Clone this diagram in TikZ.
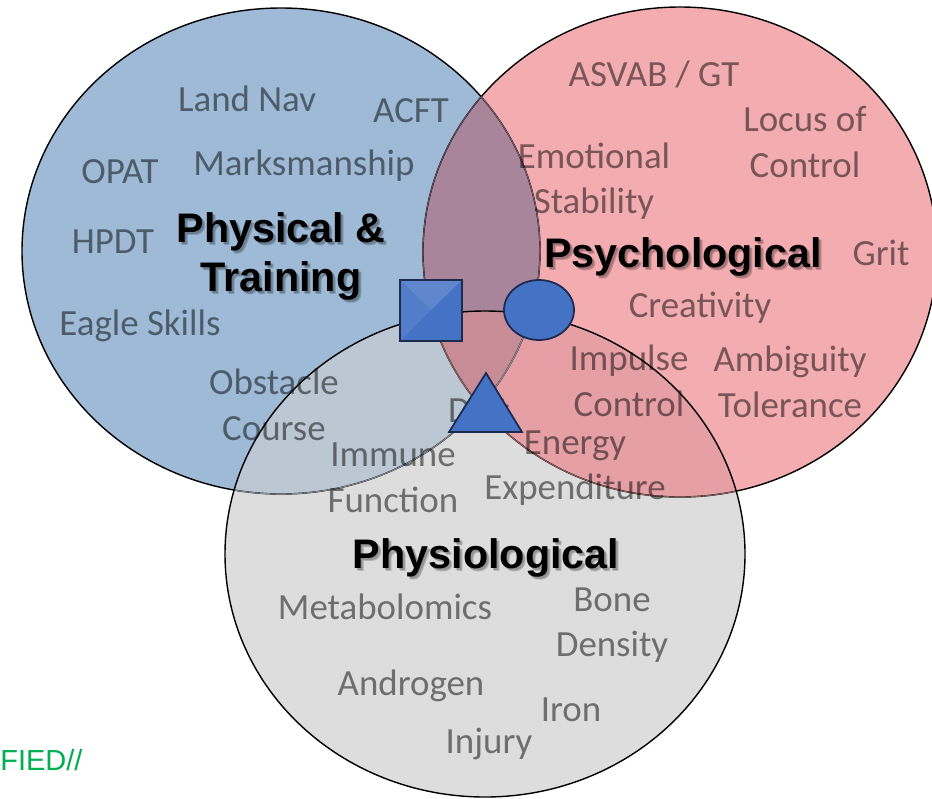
\documentclass[tikz,border=0pt]{standalone}
\usepackage{fontspec}
\setmainfont{Carlito}
\newfontfamily\ttlfont{Liberation Sans}

\definecolor{physfill}{HTML}{9EBAD6}
\definecolor{psyfill}{HTML}{F3ACB0}
\definecolor{biofill}{HTML}{DEDDDE}
\definecolor{brfill}{HTML}{A8859B}
\definecolor{bgfill}{HTML}{BCC7D4}
\definecolor{rgfill}{HTML}{E6A0A5}
\definecolor{allfill}{HTML}{C88C96}
\definecolor{mkblue}{HTML}{4472C4}
\definecolor{mkedge}{HTML}{1C2A4E}
\definecolor{clsgreen}{HTML}{00B050}

% the three sets, in pixel units
\def\physset{(281,251) ellipse [x radius=259, y radius=243]}
\def\psyset{(680,252) ellipse [x radius=257, y radius=245]}
\def\bioset{(485,554) ellipse [x radius=260, y radius=243]}

\tikzset{lbl/.style={inner sep=0pt, text=black, text opacity=0.5, align=center,
                     font=\fontsize{21}{26}\selectfont}}
\tikzset{ttl/.style={inner sep=0pt, align=center,
                     font=\ttlfont\bfseries\fontsize{23.5}{27.8}\selectfont}}
\tikzset{shd/.style={ttl, text=black, text opacity=0.18}}
\tikzset{rim/.style={draw=black, line width=0.8pt}}
\tikzset{mk/.style={fill=mkblue, draw=mkedge, line width=1pt, line join=miter}}

\begin{document}
\begin{tikzpicture}[x=0.02cm, y=-0.02cm]
\useasboundingbox (0,0) rectangle (932,798);

% plain sets
\fill[physfill] \physset;
\fill[psyfill] \psyset;
\fill[biofill] \bioset;
% overlaps
\begin{scope} \clip \physset; \fill[bgfill] \bioset; \end{scope}
\begin{scope} \clip \psyset; \fill[rgfill] \bioset; \end{scope}
\begin{scope} \clip \physset; \fill[brfill] \psyset; \end{scope}
\begin{scope} \clip \physset; \clip \psyset; \fill[allfill] \bioset; \end{scope}

% outlines, softer where they run inside another set
\draw[rim] \physset;
\draw[rim] \psyset;
\begin{scope} \clip \psyset; \draw[line width=0.6pt, draw=brfill!70!black] \physset; \end{scope}
\begin{scope} \clip \physset; \draw[line width=0.6pt, draw=brfill!60!black] \psyset; \end{scope}
\begin{scope} \clip \bioset; \draw[line width=0.6pt, draw=bgfill!70!black] \physset; \end{scope}
\begin{scope} \clip \bioset; \draw[line width=0.6pt, draw=rgfill!60!black] \psyset; \end{scope}
\draw[rim] \bioset;

% Physical & Training
\node[lbl] (landnav) at (247,99) {Land Nav};
\node[lbl] (acft) at (411,111) {ACFT};
\node[lbl] (opat) at (120,172) {OPAT};
\node[lbl] (marks) at (304,166) {Marksmanship};
\node[lbl] (hpdt) at (113,242) {HPDT};
\node[lbl] (eagle) at (140,326) {Eagle Skills};
\node[lbl] (obst) at (274,405) {Obstacle\\Course};

% Psychological
\node[lbl] (asvab) at (654,74) {ASVAB / GT};
\node[lbl] (locus) at (805,142) {Locus of\\Control};
\node[lbl] (emot) at (594,181) {Emotional\\Stability};
\node[lbl] (grit) at (881,253) {Grit};
\node[lbl] (creat) at (700,308) {Creativity};
\node[lbl] (impulse) at (629,381) {Impulse\\Control};
\node[lbl] (ambig) at (790,382) {Ambiguity\\Tolerance};

% Physiological
\node[lbl] (immune) at (393,478) {Immune\\Function};
\node[lbl] (diet) at (479,410) {Diet};
\node[lbl] (energy) at (575,468) {Energy\\Expenditure};
\node[lbl] (metab) at (385,607) {Metabolomics};
\node[lbl] (bone) at (612,625) {Bone\\Density};
\node[lbl] (andro) at (411,686) {Androgen};
\node[lbl] (iron) at (571,710) {Iron};
\node[lbl] (injury) at (489,744) {Injury};

% set titles, with a soft drop shadow
\foreach \d in {2,3}{
  \node[shd] at (281+\d,256+\d) {Physical \&\\Training};
  \node[shd] at (683+\d,257+\d) {Psychological};
  \node[shd] at (486+\d,558+\d) {Physiological};
}
\node[ttl] (phystitle) at (281,256) {Physical \&\\Training};
\node[ttl] (psytitle) at (683,257) {Psychological};
\node[ttl] (biotitle) at (486,558) {Physiological};

% markers
\draw[mk] (400,280) rectangle (462,341);
\fill[mkblue!85!white] (400,280) -- (462,280) -- (431,310) -- cycle;
\fill[mkblue!92!white] (400,280) -- (431,310) -- (400,341) -- cycle;
\draw[mkedge, line width=1pt] (400,280) rectangle (462,341);
\draw[mk] (539,310) ellipse [x radius=35, y radius=30];
\draw[mk] (486,373) -- (522,432) -- (449,432) -- cycle;

\node[anchor=west, inner sep=0pt, text=clsgreen, font=\ttlfont\fontsize{16.5}{20}\selectfont]
  (cls) at (0,760) {FIED//};
\end{tikzpicture}
\end{document}
